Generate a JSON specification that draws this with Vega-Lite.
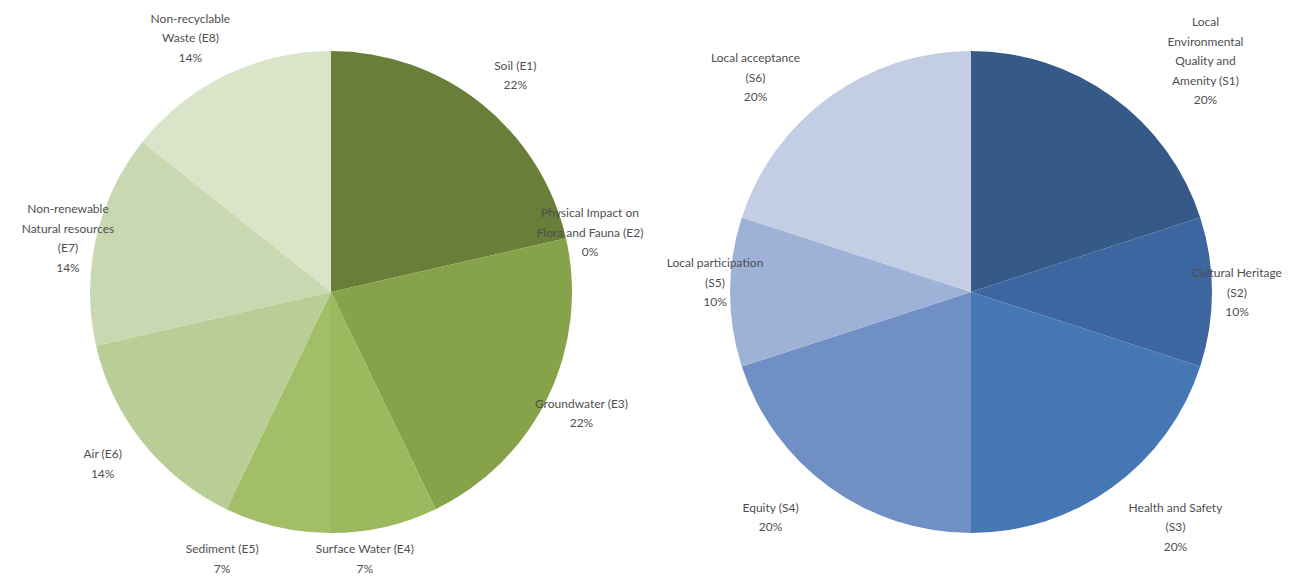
{
  "$schema": "https://vega.github.io/schema/vega-lite/v6.json",
  "padding": 0,
  "spacing": 0,
  "bounds": "flush",
  "background": "white",
  "resolve": {"scale": {"color": "independent", "theta": "independent"}},
  "config": {
    "view": {"stroke": null},
    "text": {"font": "Lato", "fontSize": 12, "fill": "#4f4f4f", "lineBreak": "\n", "lineHeight": 19.5}
  },
  "datasets": {
    "env": [
      {"idx": 1, "name": "Soil (E1)", "value": 3, "label": "Soil (E1)\n22%"},
      {"idx": 2, "name": "Physical Impact on Flora and Fauna (E2)", "value": 0, "label": "Physical Impact on\nFlora and Fauna (E2)\n0%"},
      {"idx": 3, "name": "Groundwater (E3)", "value": 3, "label": "Groundwater (E3)\n22%"},
      {"idx": 4, "name": "Surface Water (E4)", "value": 1, "label": "Surface Water (E4)\n7%"},
      {"idx": 5, "name": "Sediment (E5)", "value": 1, "label": "Sediment (E5)\n7%"},
      {"idx": 6, "name": "Air (E6)", "value": 2, "label": "Air (E6)\n14%"},
      {"idx": 7, "name": "Non-renewable Natural resources (E7)", "value": 2, "label": "Non-renewable\nNatural resources\n(E7)\n14%"},
      {"idx": 8, "name": "Non-recyclable Waste (E8)", "value": 2, "label": "Non-recyclable\nWaste (E8)\n14%"}
    ],
    "soc": [
      {"idx": 1, "name": "Local Environmental Quality and Amenity (S1)", "value": 20, "label": "Local\nEnvironmental\nQuality and\nAmenity (S1)\n20%"},
      {"idx": 2, "name": "Cultural Heritage (S2)", "value": 10, "label": "Cultural Heritage\n(S2)\n10%"},
      {"idx": 3, "name": "Health and Safety (S3)", "value": 20, "label": "Health and Safety\n(S3)\n20%"},
      {"idx": 4, "name": "Equity (S4)", "value": 20, "label": "Equity (S4)\n20%"},
      {"idx": 5, "name": "Local participation (S5)", "value": 10, "label": "Local participation\n(S5)\n10%"},
      {"idx": 6, "name": "Local acceptance (S6)", "value": 20, "label": "Local acceptance\n(S6)\n20%"}
    ]
  },
  "hconcat": [
    {
      "width": 662,
      "height": 584,
      "data": {"name": "env"},
      "encoding": {
        "theta": {"field": "value", "type": "quantitative", "stack": true},
        "order": {"field": "idx", "type": "quantitative"}
      },
      "layer": [
        {
          "mark": {"type": "arc", "radius": 241},
          "encoding": {
            "color": {
              "field": "name", "type": "nominal", "legend": null,
              "scale": {
                "domain": ["Soil (E1)", "Physical Impact on Flora and Fauna (E2)", "Groundwater (E3)", "Surface Water (E4)", "Sediment (E5)", "Air (E6)", "Non-renewable Natural resources (E7)", "Non-recyclable Waste (E8)"],
                "range": ["#687e39", "#7a9642", "#86a34a", "#9bba5d", "#a2bf68", "#b9cd96", "#cad8b2", "#d9e4c8"]
              }
            }
          }
        },
        {"mark": {"type": "text", "radius": 278, "dx": 11, "dy": -9}, "encoding": {"detail": {"field": "name"}, "text": {"condition": {"test": "datum.idx == 1", "field": "label"}, "value": ""}}},
        {"mark": {"type": "text", "radius": 278, "dx": -12, "dy": -17}, "encoding": {"detail": {"field": "name"}, "text": {"condition": {"test": "datum.idx == 2", "field": "label"}, "value": ""}}},
        {"mark": {"type": "text", "radius": 278, "dx": 0, "dy": -9}, "encoding": {"detail": {"field": "name"}, "text": {"condition": {"test": "datum.idx == 3", "field": "label"}, "value": ""}}},
        {"mark": {"type": "text", "radius": 278, "dx": -28, "dy": -14}, "encoding": {"detail": {"field": "name"}, "text": {"condition": {"test": "datum.idx == 4", "field": "label"}, "value": ""}}},
        {"mark": {"type": "text", "radius": 278, "dx": -47, "dy": -14}, "encoding": {"detail": {"field": "name"}, "text": {"condition": {"test": "datum.idx == 5", "field": "label"}, "value": ""}}},
        {"mark": {"type": "text", "radius": 278, "dx": -11, "dy": -11}, "encoding": {"detail": {"field": "name"}, "text": {"condition": {"test": "datum.idx == 6", "field": "label"}, "value": ""}}},
        {"mark": {"type": "text", "radius": 278, "dx": 8, "dy": -21}, "encoding": {"detail": {"field": "name"}, "text": {"condition": {"test": "datum.idx == 7", "field": "label"}, "value": ""}}},
        {"mark": {"type": "text", "radius": 278, "dx": -20, "dy": -23}, "encoding": {"detail": {"field": "name"}, "text": {"condition": {"test": "datum.idx == 8", "field": "label"}, "value": ""}}}
      ]
    },
    {
      "width": 618,
      "height": 584,
      "data": {"name": "soc"},
      "encoding": {
        "theta": {"field": "value", "type": "quantitative", "stack": true},
        "order": {"field": "idx", "type": "quantitative"}
      },
      "layer": [
        {
          "mark": {"type": "arc", "radius": 241},
          "encoding": {
            "color": {
              "field": "name", "type": "nominal", "legend": null,
              "scale": {
                "domain": ["Local Environmental Quality and Amenity (S1)", "Cultural Heritage (S2)", "Health and Safety (S3)", "Equity (S4)", "Local participation (S5)", "Local acceptance (S6)"],
                "range": ["#355a88", "#3d65a0", "#4677b5", "#7090c5", "#9eb1d6", "#c3cde3"]
              }
            }
          }
        },
        {"mark": {"type": "text", "radius": 290, "dx": 64, "dy": -35}, "encoding": {"detail": {"field": "name"}, "text": {"condition": {"test": "datum.idx == 1", "field": "label"}, "value": ""}}},
        {"mark": {"type": "text", "radius": 290, "dx": -24, "dy": -19}, "encoding": {"detail": {"field": "name"}, "text": {"condition": {"test": "datum.idx == 2", "field": "label"}, "value": ""}}},
        {"mark": {"type": "text", "radius": 290, "dx": 34, "dy": -19}, "encoding": {"detail": {"field": "name"}, "text": {"condition": {"test": "datum.idx == 3", "field": "label"}, "value": ""}}},
        {"mark": {"type": "text", "radius": 290, "dx": -30, "dy": -19}, "encoding": {"detail": {"field": "name"}, "text": {"condition": {"test": "datum.idx == 4", "field": "label"}, "value": ""}}},
        {"mark": {"type": "text", "radius": 290, "dx": 34, "dy": -29}, "encoding": {"detail": {"field": "name"}, "text": {"condition": {"test": "datum.idx == 5", "field": "label"}, "value": ""}}},
        {"mark": {"type": "text", "radius": 290, "dx": -45, "dy": 1}, "encoding": {"detail": {"field": "name"}, "text": {"condition": {"test": "datum.idx == 6", "field": "label"}, "value": ""}}}
      ]
    }
  ]
}
